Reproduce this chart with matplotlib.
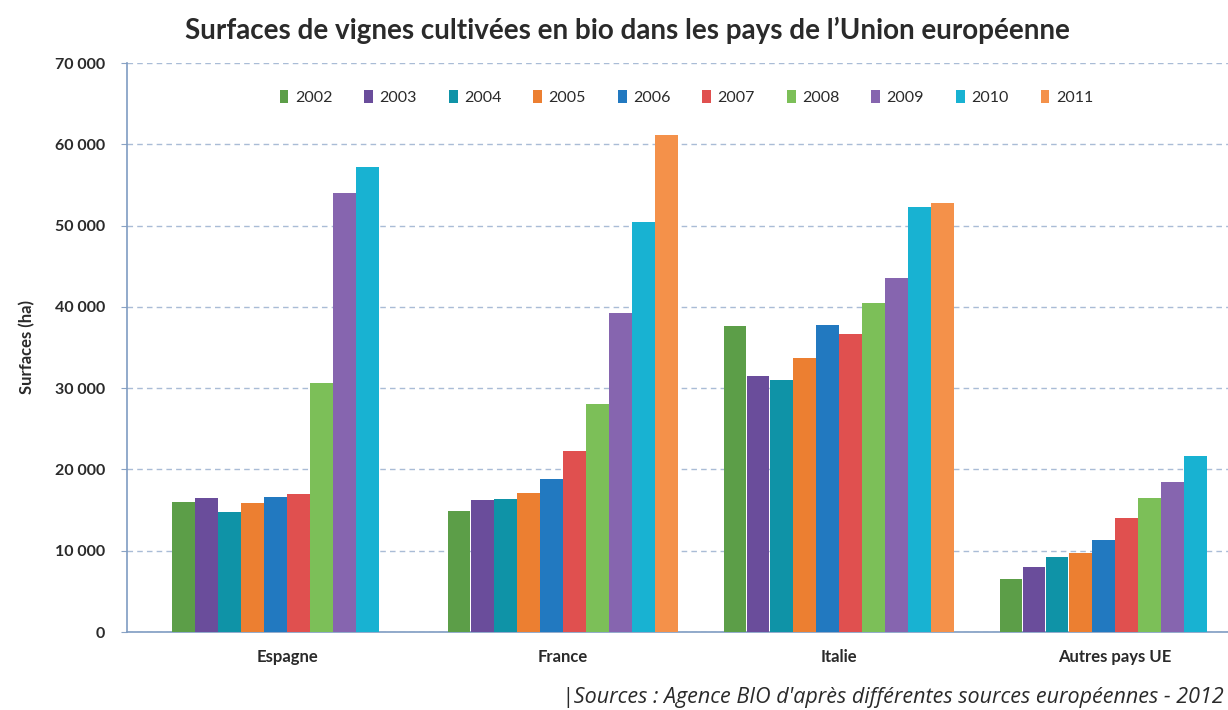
import matplotlib.pyplot as plt
import numpy as np

plt.rcParams['font.family'] = ['Lato', 'DejaVu Sans']

# Organic vineyard surfaces (ha) per country group and year
countries = ['Espagne', 'France', 'Italie', 'Autres pays UE']
years = ['2002', '2003', '2004', '2005', '2006', '2007', '2008', '2009', '2010', '2011']

espagne = [16000, 16500, 14800, 15900, 16600, 17000, 30600, 54000, 57200, None]
france = [14900, 16300, 16400, 17100, 18800, 22300, 28000, 39200, 50400, 61100]
italie = [37600, 31500, 31000, 33700, 37800, 36700, 40500, 43600, 52300, 52800]
autres = [6500, 8000, 9200, 9700, 11300, 14000, 16500, 18400, 21600, None]

colors = ['#5c9e48', '#6a4d9b', '#0f93a7', '#ec7f31', '#2279c0',
          '#e0504f', '#7cbf58', '#8665af', '#18b2d2', '#f4914a']

series = [espagne, france, italie, autres]
text_color = '#2a2a2a'

fig = plt.figure(figsize=(12.28, 7.10), dpi=100)
ax = fig.add_axes([127 / 1228, 1 - 632 / 710, (1228 - 127) / 1228, (632 - 63) / 710])

ind = np.arange(len(countries))
width = 0.0836
for j, year in enumerate(years):
    vals = [s[j] if s[j] is not None else 0 for s in series]
    ax.bar(ind + (j - 4.5) * width, vals, width * 0.98, color=colors[j], label=year, zorder=3)

ax.set_xlim(-0.58, 3.41)
ax.set_ylim(0, 70000)
ax.set_yticks(np.arange(0, 70001, 10000))
ax.set_yticklabels(['0'] + ['%d 000' % (v // 1000) for v in range(10000, 70001, 10000)],
                   fontsize=11.5, fontweight='bold', color=text_color)
ax.set_xticks(ind)
ax.set_xticklabels(countries, fontsize=12, fontweight='bold', color=text_color)
ax.tick_params(axis='x', length=0, pad=12)
ax.tick_params(axis='y', length=4, color='#8aa3c4', pad=12)

ax.grid(axis='y', linestyle=(0, (4, 3)), color='#a9bcd6', linewidth=1, zorder=0)
for side in ['top', 'right']:
    ax.spines[side].set_visible(False)
ax.spines['left'].set_color('#7f9cc2')
ax.spines['bottom'].set_color('#7f9cc2')
ax.spines['left'].set_linewidth(1.2)
ax.spines['bottom'].set_linewidth(1.2)

ax.set_ylabel('Surfaces (ha)', fontsize=12, fontweight='bold', color=text_color, labelpad=14)

leg = ax.legend(loc='center', bbox_to_anchor=(0.508, 0.940), ncol=10, frameon=False,
                fontsize=11.5, handlelength=0.55, handleheight=0.9, handletextpad=0.4,
                columnspacing=2.0)
for t in leg.get_texts():
    t.set_color(text_color)

fig.text(627 / 1228, 1 - 30 / 710, "Surfaces de vignes cultivées en bio dans les pays de l\u2019Union européenne",
         ha='center', va='center', fontsize=20, fontweight='bold', color=text_color)

fig.text(1224 / 1228, 1 - 697 / 710, "|Sources : Agence BIO d'après différentes sources européennes - 2012",
         ha='right', va='center', fontsize=15.5, style='italic', color=text_color,
         family=['Open Sans', 'DejaVu Sans'])

plt.savefig('out.png', dpi=100)
